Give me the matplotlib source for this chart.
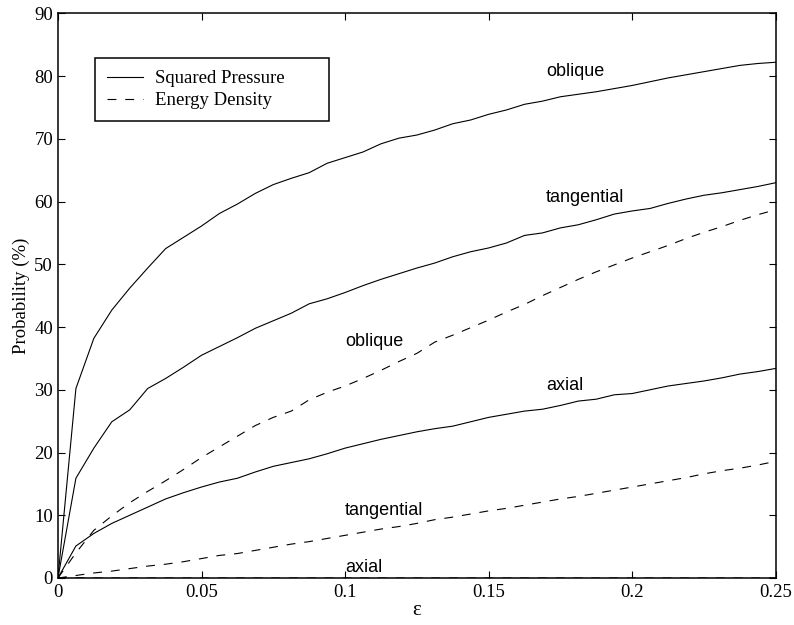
import numpy as np
import matplotlib
matplotlib.use("Agg")
import matplotlib.pyplot as plt

# epsilon grid, 41 points
eps = [0.0, 0.00625, 0.0125, 0.01875, 0.025, 0.03125, 0.0375, 0.04375, 0.05,
       0.05625, 0.0625, 0.06875, 0.075, 0.08125, 0.0875, 0.09375, 0.1,
       0.10625, 0.1125, 0.11875, 0.125, 0.13125, 0.1375, 0.14375, 0.15,
       0.15625, 0.1625, 0.16875, 0.175, 0.18125, 0.1875, 0.19375, 0.2,
       0.20625, 0.2125, 0.21875, 0.225, 0.23125, 0.2375, 0.24375, 0.25]

# squared pressure
sp_oblique = [0, 30.2, 38.2, 42.7, 46.2, 49.4, 52.5, 54.3, 56.1, 58.1, 59.6,
              61.3, 62.7, 63.7, 64.6, 66.1, 67.0, 67.9, 69.2, 70.1, 70.6,
              71.4, 72.4, 73.0, 73.9, 74.6, 75.5, 76.0, 76.7, 77.1, 77.5,
              78.0, 78.5, 79.1, 79.7, 80.2, 80.7, 81.2, 81.7, 82.0, 82.2]
sp_tangential = [0, 15.9, 20.7, 24.9, 26.8, 30.2, 31.8, 33.6, 35.5, 36.9, 38.3,
                 39.8, 41.0, 42.2, 43.7, 44.5, 45.5, 46.6, 47.6, 48.5, 49.4,
                 50.2, 51.2, 52.0, 52.6, 53.4, 54.6, 55.0, 55.8, 56.3, 57.1,
                 58.0, 58.5, 58.9, 59.7, 60.4, 61.0, 61.4, 61.9, 62.4, 63.0]
sp_axial = [0, 5.1, 7.1, 8.7, 10.0, 11.3, 12.6, 13.6, 14.5, 15.3, 15.9,
            16.9, 17.8, 18.4, 19.0, 19.8, 20.7, 21.4, 22.1, 22.7, 23.3,
            23.8, 24.2, 24.9, 25.6, 26.1, 26.6, 26.9, 27.5, 28.2, 28.5,
            29.2, 29.4, 30.0, 30.6, 31.0, 31.4, 31.9, 32.5, 32.9, 33.4]

# energy density
ed_oblique = [0, 4.0, 7.6, 9.9, 12.0, 13.8, 15.5, 17.3, 19.2, 20.9, 22.6,
              24.3, 25.6, 26.6, 28.4, 29.6, 30.6, 31.8, 33.1, 34.5, 35.8,
              37.6, 38.7, 39.9, 41.1, 42.4, 43.6, 45.0, 46.3, 47.6, 48.8,
              49.9, 51.0, 52.0, 53.0, 54.1, 55.1, 56.0, 57.0, 57.9, 58.7]
ed_tangential = [0, 0.4, 0.8, 1.1, 1.5, 1.9, 2.2, 2.6, 3.1, 3.6, 3.9,
                 4.4, 4.9, 5.4, 5.8, 6.3, 6.8, 7.3, 7.8, 8.2, 8.7,
                 9.3, 9.7, 10.2, 10.7, 11.1, 11.6, 12.1, 12.6, 13.0, 13.5,
                 14.0, 14.5, 15.0, 15.5, 16.0, 16.6, 17.1, 17.5, 18.0, 18.6]
# axial energy density stays on the axis
ed_axial = [0, 0.05, 0, 0, 0, 0, 0, 0, 0, 0, 0,
            0, 0, 0, 0, 0, 0, 0, 0, 0, 0,
            0, 0, 0, 0, 0, 0, 0, 0, 0, 0,
            0, 0, 0, 0, 0, 0, 0, 0, 0, 0]

# curve labels: (text, x, y)
curve_labels = [("oblique", 0.17, 80), ("tangential", 0.17, 60), ("axial", 0.17, 30),
                ("oblique", 0.1, 37), ("tangential", 0.1, 10), ("axial", 0.1, 1)]

serif = "Liberation Serif"
sans = "Liberation Sans"

fig = plt.figure(figsize=(7.94, 6.25), dpi=100)
ax = fig.add_axes([0.073, 0.0752, 0.904, 0.9035])

lw = 0.8
dash = (0, (8, 8))
l1, = ax.plot(eps, sp_oblique, color="k", lw=lw)
ax.plot(eps, sp_tangential, color="k", lw=lw)
ax.plot(eps, sp_axial, color="k", lw=lw)
l2, = ax.plot(eps, ed_oblique, color="k", lw=lw, ls=dash)
ax.plot(eps, ed_tangential, color="k", lw=lw, ls=dash)
ax.plot(eps, ed_axial, color="k", lw=lw, ls=dash)

for txt, x, y in curve_labels:
    ax.text(x, y, txt, fontsize=13, family=sans, va="baseline", ha="left")

ax.set_xlim(0, 0.25)
ax.set_ylim(0, 90)
ax.set_xticks([0, 0.05, 0.1, 0.15, 0.2, 0.25])
ax.set_xticklabels(["0", "0.05", "0.1", "0.15", "0.2", "0.25"])
ax.set_yticks(range(0, 91, 10))
ax.tick_params(direction="in", length=5, width=0.8, top=True, right=True,
               labelsize=13.5, colors="k")
ax.tick_params(axis="x", pad=4.5)
ax.tick_params(axis="y", pad=3.5)
for lab in ax.get_xticklabels() + ax.get_yticklabels():
    lab.set_family(serif)
for s in ax.spines.values():
    s.set_linewidth(1.1)

ax.set_xlabel("ε", family=serif, fontsize=15, labelpad=0)
ax.set_ylabel("Probability (%)", family=serif, fontsize=13.5, labelpad=3)

leg = fig.legend([l1, l2], ["Squared Pressure", "Energy Density"],
                 loc="upper left", bbox_to_anchor=(0.1196, 0.8064, 0.2947, 0.1008),
                 mode="expand", prop={"family": serif, "size": 13.5},
                 fancybox=False, framealpha=1, edgecolor="k", borderaxespad=0,
                 handlelength=1.9, handletextpad=0.65, labelspacing=0.25,
                 borderpad=0.65)
leg.get_frame().set_linewidth(1.1)

fig.savefig("out.png", dpi=100)
